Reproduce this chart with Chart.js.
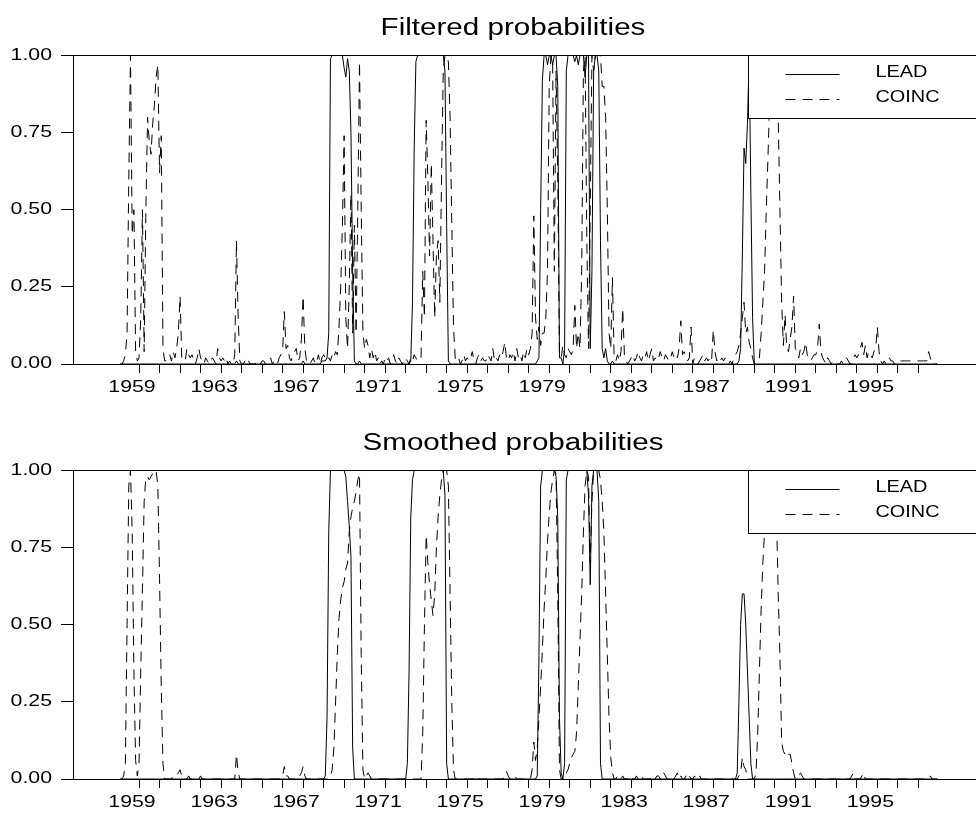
<!DOCTYPE html>
<html>
<head>
<meta charset="utf-8">
<title>Filtered and smoothed probabilities</title>
<script src="https://cdn.jsdelivr.net/npm/chart.js@4.4.1/dist/chart.umd.min.js"></script>
<style>
  html, body { margin: 0; padding: 0; background: #fff; }
  canvas { position: absolute; left: 0; }
  #top { top: 0; }
  #bottom { top: 415px; }
</style>
</head>
<body>
<canvas id="top" width="976" height="415"></canvas>
<canvas id="bottom" width="976" height="402"></canvas>
<script>
// ---------- texts and ticks ----------
const panelTitles = ['Filtered probabilities', 'Smoothed probabilities'];
const seriesNames = ['LEAD', 'COINC'];
const firstYear = 1958;          // first monthly observation: 1958 month 1
const tickYears = [1959,1960,1961,1962,1963,1964,1965,1966,1967,1968,1969,1970,1971,1972,1973,1974,1975,1976,1977,1978,
                   1979,1980,1981,1982,1983,1984,1985,1986,1987,1988,1989,1990,1991,1992,1993,1994,1995,1996,1997];
const labelYears = [1959,1963,1967,1971,1975,1979,1983,1987,1991,1995];
const yTicks = [0, 0.25, 0.5, 0.75, 1];

// ---------- monthly probabilities (one row per year) ----------
const leadFiltered = [
 [0,0,0,0,0,0,0,0,0,0,0,0], //1958
 [0,0,0,0,0,0,0,0,0,0,0,0], //1959
 [0,0,0,0,0,0,0,0,0,0,0,0], //1960
 [0,0,0,0,0,0,0,0,0,0,0,0], //1961
 [0,0,0,0,0,0,0,0,0,0,0,0], //1962
 [0,0,0,0,0,0,0,0,0.01,0,0,0], //1963
 [0,0,0,0,0,0,0,0,0,0,0,0], //1964
 [0,0,0,0,0,0,0,0,0,0,0,0], //1965
 [0,0,0,0,0,0,0,0,0,0,0,0.01], //1966
 [0,0,0,0,0,0,0,0,0,0,0.01,0.01], //1967
 [0.01,0.02,0.1,0.99,1,1,1,1,1,1,1,0.96], //1968
 [0.93,0.99,0.95,0.75,0.3,0.01,0,0,0.01,0,0,0], //1969
 [0,0,0,0,0,0,0,0,0,0,0,0], //1970
 [0,0,0,0,0,0,0,0,0,0,0,0], //1971
 [0,0,0.01,0.2,0.7,0.98,1,1,1,1,1,1], //1972
 [1,1,1,1,1,1,1,1,1,1,0.95,0.45], //1973
 [0.01,0,0,0,0,0,0,0,0,0,0,0], //1974
 [0,0,0,0,0,0,0,0,0,0,0,0], //1975
 [0,0,0,0,0,0,0,0,0,0,0,0], //1976
 [0,0,0,0,0,0,0,0,0,0,0,0], //1977
 [0,0,0,0,0.01,0.02,0.5,0.92,1,1,0.97,1], //1978
 [1,0.97,1,1,0.9,0.02,0.02,0,0.05,0.95,1,1], //1979
 [1,1,0.98,1,0.97,1,1,1,0.93,1,1,0.05], //1980
 [0.3,0.95,1,1,0.95,0.4,0.05,0.02,0.05,0.01,0,0], //1981
 [0.01,0,0,0,0,0,0,0,0,0,0,0], //1982
 [0,0,0,0,0,0,0,0,0,0,0,0], //1983
 [0,0,0,0,0,0,0,0,0,0,0,0], //1984
 [0,0,0,0,0,0,0,0,0,0,0,0], //1985
 [0,0,0,0,0,0,0,0,0,0,0,0], //1986
 [0,0,0,0,0,0,0,0,0,0,0,0], //1987
 [0,0,0.01,0.05,0.35,0.7,0.65,0.78,1,0.55,0.15,0], //1988
 [0,0,0,0,0,0,0,0,0,0,0,0], //1989
 [0,0,0,0,0,0,0,0,0,0,0,0], //1990
 [0,0,0,0,0,0,0,0,0,0,0,0], //1991
 [0,0,0,0,0,0,0,0,0,0,0,0], //1992
 [0,0,0,0,0,0,0,0,0,0,0,0], //1993
 [0,0,0,0,0,0,0,0,0,0,0,0], //1994
 [0,0,0,0,0,0,0,0,0,0,0,0], //1995
 [0,0,0,0,0,0,0,0,0,0,0,0], //1996
 [0,0,0,0,0,0,0,0,0,0,0] //1997
].flat();

const coincFiltered = [
 [0,0,0.01,0.03,0.1,0.6,1,0.42,0.5,0.04,0.01,0.02], //1958
 [0.15,0.5,0.04,0.5,0.8,0.72,0.68,0.78,0.84,0.93,0.97,0.62], //1959
 [0.74,0.05,0.01,0.01,0.02,0.03,0.01,0.04,0.02,0.05,0.1,0.22], //1960
 [0.02,0.01,0.01,0.05,0.03,0.02,0.03,0.01,0,0.02,0.05,0.02], //1961
 [0.01,0,0.02,0.01,0,0.01,0.02,0.01,0,0.05,0.02,0.01], //1962
 [0.02,0.01,0.02,0,0.01,0,0,0.03,0.4,0.15,0.01,0], //1963
 [0,0.01,0,0.01,0,0,0,0,0.01,0,0,0.01], //1964
 [0.01,0,0,0.01,0.02,0,0.01,0,0,0.02,0.03,0.04], //1965
 [0.17,0.05,0.06,0.02,0.01,0.03,0.04,0.05,0.01,0.02,0.08,0.22], //1966
 [0.05,0.01,0.01,0,0.01,0.02,0,0.01,0.03,0,0.02,0.03], //1967
 [0.02,0.01,0.02,0.01,0.03,0.02,0.04,0.03,0.12,0.25,0.45,0.74], //1968
 [0.15,0.05,0.25,0.55,0.1,0.45,0.1,0.5,0.98,0.5,0.1,0.05], //1969
 [0.08,0.06,0.02,0.05,0.02,0.04,0.01,0.02,0,0.01,0,0.02], //1970
 [0.01,0.02,0,0.01,0.03,0.01,0,0.02,0.01,0,0.01,0.02], //1971
 [0.01,0,0.02,0.01,0.03,0.02,0.01,0.02,0.02,0.3,0.15,0.79], //1972
 [0.6,0.35,0.65,0.4,0.15,0.35,0.4,0.2,0.6,0.95,1,1], //1973
 [0.98,0.8,0.45,0.12,0.02,0.01,0.02,0,0.01,0.03,0.01,0.02], //1974
 [0.01,0.02,0.04,0.01,0,0.02,0.03,0.01,0.02,0.01,0.01,0.03], //1975
 [0.02,0.01,0.05,0.01,0.02,0.01,0.03,0.02,0.04,0.07,0.02,0.01], //1976
 [0.03,0.02,0.04,0.01,0.05,0.02,0.03,0.01,0.04,0.02,0.05,0.03], //1977
 [0.05,0.1,0.48,0.15,0.08,0.12,0.06,0.1,0.1,0.15,0.3,0.9], //1978
 [1,0.98,0.3,0.95,0.6,0.03,0.02,0.06,0.03,0.02,0.05,0.04], //1979
 [0.03,0.05,0.19,0.05,0.1,0.05,0.3,0.95,1,0.4,0.05,0.5], //1980
 [1,0.95,1,1,1,1,0.9,0.9,0.8,0.5,0.1,0.05], //1981
 [0.28,0.02,0.01,0.03,0.01,0.04,0.18,0.03,0.01,0,0.01,0.02], //1982
 [0.03,0.01,0.02,0.04,0.02,0.01,0.03,0.02,0.04,0.01,0.03,0.05], //1983
 [0.01,0.02,0.01,0.02,0.04,0.02,0.01,0.03,0.02,0.01,0.02,0.04], //1984
 [0.02,0.03,0.02,0.05,0.14,0.03,0.04,0.02,0.01,0.02,0.12,0], //1985
 [0.02,0.01,0,0.01,0.02,0.03,0.01,0.02,0.01,0.02,0.01,0.11], //1986
 [0.04,0.01,0.02,0.01,0.02,0.01,0.02,0.01,0,0.01,0,0.02], //1987
 [0.03,0.04,0.06,0.1,0.15,0.2,0.1,0.12,0.07,0.05,0.02,0], //1988
 [0.01,0.02,0.02,0.1,0.2,0.3,0.5,0.67,0.85,1,1,1], //1989
 [0.95,0.8,0.5,0.2,0.06,0.16,0.05,0.04,0.08,0.12,0.22,0.05], //1990
 [0.04,0.02,0.05,0.03,0.04,0.07,0.03,0.02,0.01,0.02,0.03,0.03], //1991
 [0.05,0.13,0.04,0.02,0.01,0,0.02,0.01,0,0.01,0.01,0], //1992
 [0,0,0.01,0,0.01,0.02,0.01,0,0,0.02,0.03,0.02], //1993
 [0.03,0.05,0.07,0.03,0.06,0.02,0.04,0.03,0.02,0.04,0.05,0.12], //1994
 [0.04,0.01,0,0.01,0,0.01,0.02,0.01,0.01,0,0.01,0.01], //1995
 [0.01,0.01,0.01,0.01,0.01,0.01,0.01,0.01,0.01,0.01,0.01,0.01], //1996
 [0.01,0.01,0.01,0.01,0.01,0.04,0.02,0,0,0,0] //1997
].flat();

const leadSmoothed = [
 [0,0,0,0,0,0,0,0,0,0,0,0], //1958
 [0,0,0,0,0,0,0,0,0,0,0,0], //1959
 [0,0,0,0,0,0,0,0,0,0,0,0], //1960
 [0,0,0,0,0,0,0,0,0,0,0,0], //1961
 [0,0,0,0,0,0,0,0,0,0,0,0], //1962
 [0,0,0,0,0,0,0,0,0,0,0,0], //1963
 [0,0,0,0,0,0,0,0,0,0,0,0], //1964
 [0,0,0,0,0,0,0,0,0,0,0,0], //1965
 [0,0,0,0,0,0,0,0,0,0,0,0], //1966
 [0,0,0,0,0,0,0,0,0,0,0,0], //1967
 [0.01,0.2,0.8,1,1,1,1,1,1,1,1,1], //1968
 [0.98,0.9,0.82,0.72,0.1,0,0,0,0,0,0,0], //1969
 [0,0,0,0,0,0,0,0,0,0,0,0], //1970
 [0,0,0,0,0,0,0,0,0,0,0,0], //1971
 [0.05,0.35,0.85,0.97,1,1,1,1,1,1,1,1], //1972
 [1,1,1,1,1,1,1,1,1,1,0.92,0.05], //1973
 [0,0,0,0,0,0,0,0,0,0,0,0], //1974
 [0,0,0,0,0,0,0,0,0,0,0,0], //1975
 [0,0,0,0,0,0,0,0,0,0,0,0], //1976
 [0,0,0,0,0,0,0,0,0,0,0,0], //1977
 [0,0,0,0,0.01,0.4,0.95,1,1,1,1,1], //1978
 [1,1,1,0.98,0.85,0.2,0.02,0,0.05,0.97,1,1], //1979
 [1,1,1,1,1,1,1,1,1,1,0.92,0.63], //1980
 [0.95,1,1,1,0.9,0.05,0,0,0,0,0,0], //1981
 [0,0,0,0,0,0,0,0,0,0,0,0], //1982
 [0,0,0,0,0,0,0,0,0,0,0,0], //1983
 [0,0,0,0,0,0,0,0,0,0,0,0], //1984
 [0,0,0,0,0,0,0,0,0,0,0,0], //1985
 [0,0,0,0,0,0,0,0,0,0,0,0], //1986
 [0,0,0,0,0,0,0,0,0,0,0,0], //1987
 [0,0.02,0.25,0.5,0.6,0.6,0.5,0.35,0.2,0.05,0,0], //1988
 [0,0,0,0,0,0,0,0,0,0,0,0], //1989
 [0,0,0,0,0,0,0,0,0,0,0,0], //1990
 [0,0,0,0,0,0,0,0,0,0,0,0], //1991
 [0,0,0,0,0,0,0,0,0,0,0,0], //1992
 [0,0,0,0,0,0,0,0,0,0,0,0], //1993
 [0,0,0,0,0,0,0,0,0,0,0,0], //1994
 [0,0,0,0,0,0,0,0,0,0,0,0], //1995
 [0,0,0,0,0,0,0,0,0,0,0,0], //1996
 [0,0,0,0,0,0,0,0,0,0,0] //1997
].flat();

const coincSmoothed = [
 [0,0,0.01,0.05,0.5,0.95,1,0.8,0.35,0.06,0.01,0.05], //1958
 [0.35,0.62,0.9,0.98,0.98,0.97,0.98,0.99,1,1,0.95,0.65], //1959
 [0.3,0.05,0,0,0,0,0,0.01,0.01,0.01,0.02,0.03], //1960
 [0.01,0,0,0,0.01,0,0,0,0,0,0,0.01], //1961
 [0,0,0,0,0,0,0,0,0,0,0,0], //1962
 [0,0,0,0,0,0,0,0,0.08,0.02,0,0], //1963
 [0,0,0,0,0,0,0,0,0,0,0,0], //1964
 [0,0,0,0,0,0,0,0,0,0,0.01,0.01], //1965
 [0.04,0.01,0.01,0,0,0,0,0,0,0.01,0.02,0.04], //1966
 [0.01,0,0,0,0,0,0,0,0,0,0,0], //1967
 [0,0,0,0.01,0.03,0.1,0.25,0.4,0.52,0.58,0.62,0.64], //1968
 [0.68,0.7,0.8,0.85,0.88,0.9,0.93,0.97,0.99,0.4,0.03,0], //1969
 [0.01,0.02,0.01,0,0,0,0,0,0,0,0,0], //1970
 [0,0,0,0,0,0,0,0,0,0,0,0], //1971
 [0,0,0,0,0,0,0,0,0,0.15,0.5,0.79], //1972
 [0.7,0.63,0.58,0.53,0.6,0.75,0.85,0.92,0.97,1,1,1], //1973
 [0.95,0.6,0.25,0.03,0,0,0,0,0,0,0,0], //1974
 [0,0,0,0,0.01,0,0,0,0,0,0,0], //1975
 [0,0,0,0,0,0,0,0,0,0.02,0.025,0.01], //1976
 [0,0,0,0.01,0,0,0,0,0,0,0,0], //1977
 [0,0.03,0.12,0.06,0.1,0.2,0.3,0.42,0.55,0.65,0.77,0.86], //1978
 [0.93,0.97,1,0.99,0.6,0.03,0,0,0.01,0.02,0.03,0.05], //1979
 [0.07,0.08,0.09,0.15,0.3,0.45,0.6,0.8,0.95,1,0.98,0.7], //1980
 [0.9,1,1,1,1,0.97,0.9,0.8,0.6,0.4,0.2,0.07], //1981
 [0.02,0,0,0.01,0,0,0.01,0,0,0,0.01,0], //1982
 [0,0,0.01,0,0,0.01,0,0,0,0,0,0.01], //1983
 [0,0,0.01,0.01,0,0,0.02,0.01,0,0,0.01,0], //1984
 [0,0.01,0.02,0,0.01,0,0,0.01,0.02,0.01,0,0], //1985
 [0.01,0,0,0.01,0,0,0,0,0,0,0,0], //1986
 [0,0,0,0,0,0,0,0,0,0,0,0], //1987
 [0,0,0.01,0.02,0.07,0.04,0.03,0,0,0,0,0], //1988
 [0.02,0.15,0.35,0.55,0.7,0.8,0.9,1,1,1,1,0.95], //1989
 [0.85,0.6,0.4,0.12,0.09,0.08,0.09,0.08,0.08,0.05,0.02,0], //1990
 [0,0.01,0.02,0.01,0,0,0,0,0,0,0,0], //1991
 [0,0,0,0,0,0,0,0,0,0,0,0], //1992
 [0,0,0,0,0,0,0,0,0.01,0.02,0,0], //1993
 [0,0,0.01,0.02,0,0,0,0,0,0,0,0], //1994
 [0,0,0,0,0,0,0,0,0,0,0,0], //1995
 [0,0,0,0,0,0,0,0,0,0,0,0], //1996
 [0,0,0,0,0,0,0.01,0,0,0,0] //1997
].flat();

// ---------- rendering ----------
const FONT = "'Liberation Sans', Arial, Helvetica, sans-serif";
const TICK_STRETCH = 1.33;   // the reference lettering is horizontally widened
const TITLE_STRETCH = 1.27;
const LEGEND_STRETCH = 1.17;
const months = leadFiltered.map((_, i) => firstYear + (i + 1) / 12);

const stretchText = {
  id: 'stretchText',
  beforeInit(chart) {
    const ctx = chart.ctx;
    const base = CanvasRenderingContext2D.prototype.fillText;
    ctx.textStretch = TICK_STRETCH;
    ctx.fillText = function (text, x, y) {
      this.save();
      this.translate(x, y);
      this.scale(this.textStretch, 1);
      base.call(this, text, 0, 0);
      this.restore();
    };
  }
};

const panelDecor = {
  id: 'panelDecor',
  afterDatasetsDraw(chart, args, opts) {
    const { ctx, chartArea: a } = chart;
    ctx.save();
    const bx = Math.floor(a.right - 228) + 0.5;
    const by = Math.floor(a.top) + 0.5;
    const bh = 63;
    ctx.fillStyle = '#fff';
    ctx.fillRect(bx, by, 300, bh);
    ctx.strokeStyle = '#000';
    ctx.lineWidth = 1;
    ctx.strokeRect(bx, by, 300, bh);
    ctx.font = `17px ${FONT}`;
    ctx.textAlign = 'left';
    ctx.textBaseline = 'middle';
    ctx.textStretch = LEGEND_STRETCH;
    chart.data.datasets.forEach((ds, i) => {
      const ly = Math.floor(by + 19 + i * 25) + 0.5;
      ctx.setLineDash(ds.borderDash || []);
      ctx.beginPath();
      ctx.moveTo(bx + 37, ly);
      ctx.lineTo(bx + 91, ly);
      ctx.stroke();
      ctx.setLineDash([]);
      ctx.fillStyle = '#000';
      ctx.fillText(ds.label, bx + 127, ly - 1.8);
    });
    ctx.textStretch = TICK_STRETCH;
    ctx.restore();
  },
  afterDraw(chart, args, opts) {
    const { ctx, chartArea: a } = chart;
    ctx.save();
    ctx.fillStyle = '#000';
    ctx.font = `23.3px ${FONT}`;
    ctx.textAlign = 'center';
    ctx.textBaseline = 'alphabetic';
    ctx.textStretch = TITLE_STRETCH;
    ctx.fillText(opts.text, a.left + 440, a.top - 20.5);
    ctx.textStretch = TICK_STRETCH;
    ctx.restore();
  }
};

function makePanel(canvasId, title, lead, coinc, xAxisHeight) {
  return new Chart(document.getElementById(canvasId), {
    type: 'line',
    data: {
      datasets: [
        { label: seriesNames[0], data: lead.map((v, i) => ({ x: months[i], y: v })),
          borderColor: '#000', borderWidth: 1, pointRadius: 0, tension: 0, fill: false },
        { label: seriesNames[1], data: coinc.map((v, i) => ({ x: months[i], y: v })),
          borderColor: '#000', borderWidth: 1, borderDash: [10, 7], pointRadius: 0, tension: 0, fill: false }
      ]
    },
    options: {
      responsive: false,
      animation: false,
      events: [],
      layout: { padding: { top: 55.5, left: 0, right: 0, bottom: 0 } },
      plugins: {
        legend: { display: false },
        title: { display: false },
        tooltip: { enabled: false },
        panelDecor: { text: title }
      },
      scales: {
        x: {
          type: 'linear',
          position: 'bottom',
          min: 1955.78,
          max: 1999.81,
          afterBuildTicks: s => { s.ticks = tickYears.map(v => ({ value: v })); },
          afterFit: s => { s.height = xAxisHeight; },
          ticks: {
            autoSkip: false, maxRotation: 0, minRotation: 0,
            padding: 5, labelOffset: -7, color: '#000',
            font: { family: FONT, size: 16 },
            callback: v => labelYears.includes(v) ? String(v) : ''
          },
          grid: { drawOnChartArea: false, drawTicks: true, tickLength: 9, tickColor: '#000', tickWidth: 1 },
          border: { display: true, color: '#000', width: 1 }
        },
        y: {
          type: 'linear',
          min: 0,
          max: 1,
          afterBuildTicks: s => { s.ticks = yTicks.map(v => ({ value: v })); },
          afterFit: s => { s.width = 73; },
          ticks: {
            padding: 9, color: '#000',
            font: { family: FONT, size: 16 },
            callback: v => Number(v).toFixed(2)
          },
          grid: {
            drawOnChartArea: true, drawTicks: true, tickLength: 12,
            tickColor: '#000', tickWidth: 1, lineWidth: 1,
            color: c => (c.tick && c.tick.value === 1) ? '#000' : 'rgba(0,0,0,0)'
          },
          border: { display: true, color: '#000', width: 1 }
        }
      }
    },
    plugins: [stretchText, panelDecor]
  });
}

makePanel('top', panelTitles[0], leadFiltered, coincFiltered, 51);
makePanel('bottom', panelTitles[1], leadSmoothed, coincSmoothed, 38);
</script>
</body>
</html>
